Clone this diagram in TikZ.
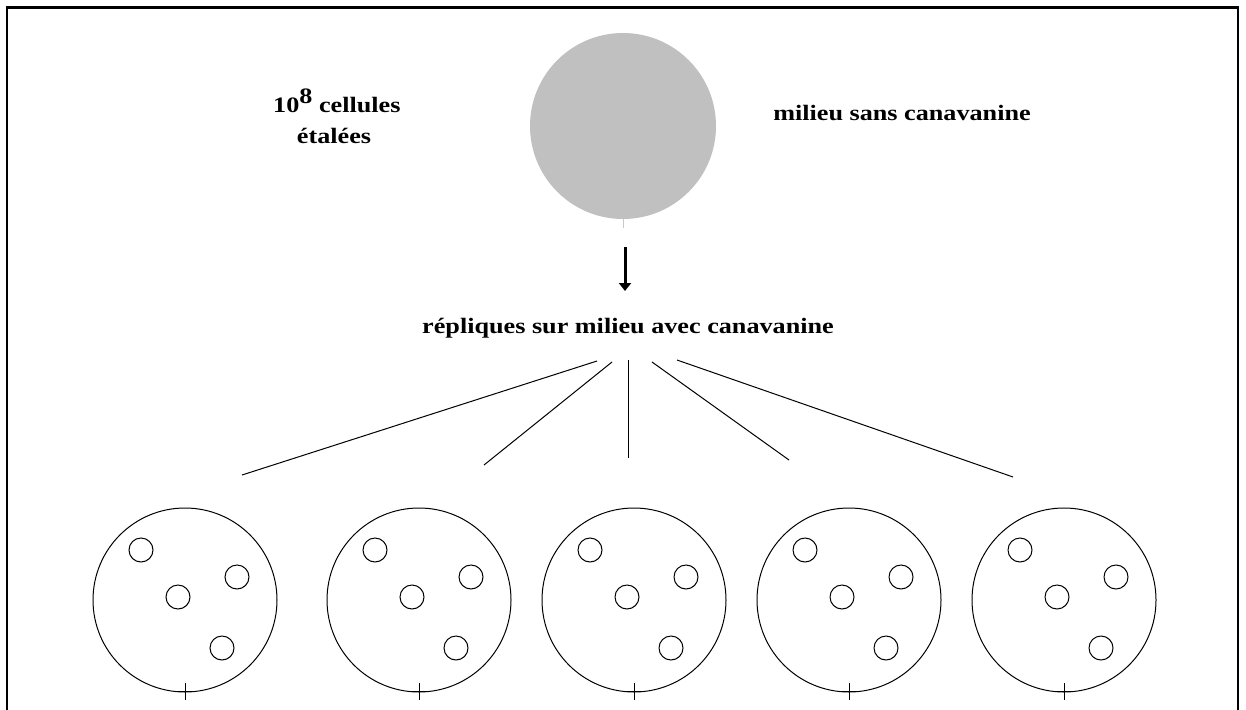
\documentclass[tikz,border=0pt]{standalone}
\usepackage{graphicx}
\usepackage{fontspec}
\setmainfont{Liberation Serif}
\usetikzlibrary{arrows.meta,calc}
\definecolor{plategray}{RGB}{192,192,192}
\definecolor{tickgray}{RGB}{200,200,200}
\newcommand{\lbl}[1]{\scalebox{1.19}[1]{\bfseries #1}}
\tikzset{
  label text/.style={inner sep=0pt, font=\fontsize{22}{26}\selectfont},
  dish/.style={draw=black, line width=1pt},
  colony/.style={draw=black, line width=1pt},
  fanline/.style={draw=black, line width=1pt},
  frame/.style={draw=black, line width=2.5pt}
}
\begin{document}
\begin{tikzpicture}[x=1pt, y=-1pt]
\useasboundingbox (0,0) rectangle (1246,709);
% outer frame (open at the bottom)
\draw[frame] (7,720) -- (7,7.5) -- (1238,7.5) -- (1238,720);

% master plate without canavanine
\fill[plategray] (623,126) circle (93);
\coordinate (master) at (623,126);
\draw[tickgray, line width=1pt] (623,219) -- (623,228);

% labels
\node[label text, anchor=base west] (cells) at (273,112) {\lbl{10\raisebox{9pt}{8} cellules}};
\node[label text, anchor=base] (spread) at (334,143) {\lbl{étalées}};
\node[label text, anchor=base] (nocan) at (902,120) {\lbl{milieu sans canavanine}};
\node[label text, anchor=base] (repl) at (628,333) {\lbl{répliques sur milieu avec canavanine}};

% replica arrow
\coordinate (a1) at (625,247);
\coordinate (a2) at (625,291);
\draw[line width=3pt, -{Triangle[width=12pt,length=8pt]}] (a1) -- (a2);

% fan of replica lines
\coordinate (s1) at (597,361); \coordinate (e1) at (242,475);
\coordinate (s2) at (612,362); \coordinate (e2) at (484,465);
\coordinate (s3) at (628,360); \coordinate (e3) at (628,458);
\coordinate (s4) at (652,362); \coordinate (e4) at (789,460);
\coordinate (s5) at (677,360); \coordinate (e5) at (1013,477);
\foreach \i in {1,...,5} \draw[fanline] (s\i) -- (e\i);

% replica plates with colonies and orientation mark
\foreach \cx [count=\k] in {185,419,634,849,1064} {
  \coordinate (d\k) at (\cx,600);
  \draw[dish] (d\k) circle (92);
  \foreach \dx/\dy in {-44/-50, 52/-23, -7/-3, 37/48}
    \draw[colony] ($(d\k)+(\dx,\dy)$) circle (12);
  \draw[line width=1pt] ($(d\k)+(0,83)$) -- ($(d\k)+(0,100)$);
  \draw[line width=1pt] ($(d\k)+(-10,91)$) -- ($(d\k)+(10,91)$);
}
\end{tikzpicture}
\end{document}
